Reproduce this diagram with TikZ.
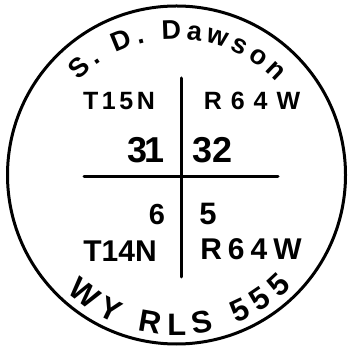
\documentclass[tikz,border=0pt]{standalone}
\usepackage{fontspec}
\setmainfont{Liberation Sans}
\usetikzlibrary{decorations.text}

\begin{document}
\begin{tikzpicture}[x=1pt,y=1pt,
  ink/.style={line width=3pt,line cap=round},
  lbl/.style={inner sep=0pt,anchor=center},
  curved/.style={decorate,decoration={text along path,text align=fit to path,text={#1}}}]
\useasboundingbox (0,0) rectangle (349,350);
\coordinate (c) at (176.5,175);
\draw[ink] (c) circle[radius=169];
\coordinate (vtop) at (181,272);
\coordinate (vbot) at (181,73);
\coordinate (hleft) at (84,173);
\coordinate (hright) at (278,173);
\draw[ink] (vtop) -- (vbot);
\draw[ink] (hleft) -- (hright);
\node[lbl,font=\fontsize{25}{30}\selectfont\bfseries\addfontfeature{LetterSpace=14}] (t15n) at (119,249) {T15N};
\node[lbl,font=\fontsize{25}{30}\selectfont\bfseries\addfontfeature{LetterSpace=36}] (r64wtop) at (252,249) {R64W};
\node[lbl,font=\fontsize{36}{40}\selectfont\bfseries\addfontfeature{LetterSpace=-8}] (s31) at (146,200) {31};
\node[lbl,font=\fontsize{36}{40}\selectfont\bfseries] (s32) at (213,200) {32};
\node[lbl,font=\fontsize{29}{30}\selectfont\bfseries] (s6) at (157,135) {6};
\node[lbl,font=\fontsize{31}{34}\selectfont\bfseries] (s5) at (208,136) {5};
\node[lbl,font=\fontsize{30}{34}\selectfont\bfseries] (t14n) at (120,99) {T14N};
\node[lbl,font=\fontsize{30}{34}\selectfont\bfseries\addfontfeature{LetterSpace=20}] (r64wbot) at (251,101) {R64W};
\path[curved={|\fontsize{27}{30}\selectfont\bfseries|S. D. Dawson}]
  ([shift={(136:136)}]c) arc[start angle=136,end angle=43,radius=136];
\path[curved={|\fontsize{31}{34}\selectfont\bfseries|WY RLS 555}]
  ([shift={(227:160)}]c) arc[start angle=227,end angle=316,radius=160];
\end{tikzpicture}
\end{document}
